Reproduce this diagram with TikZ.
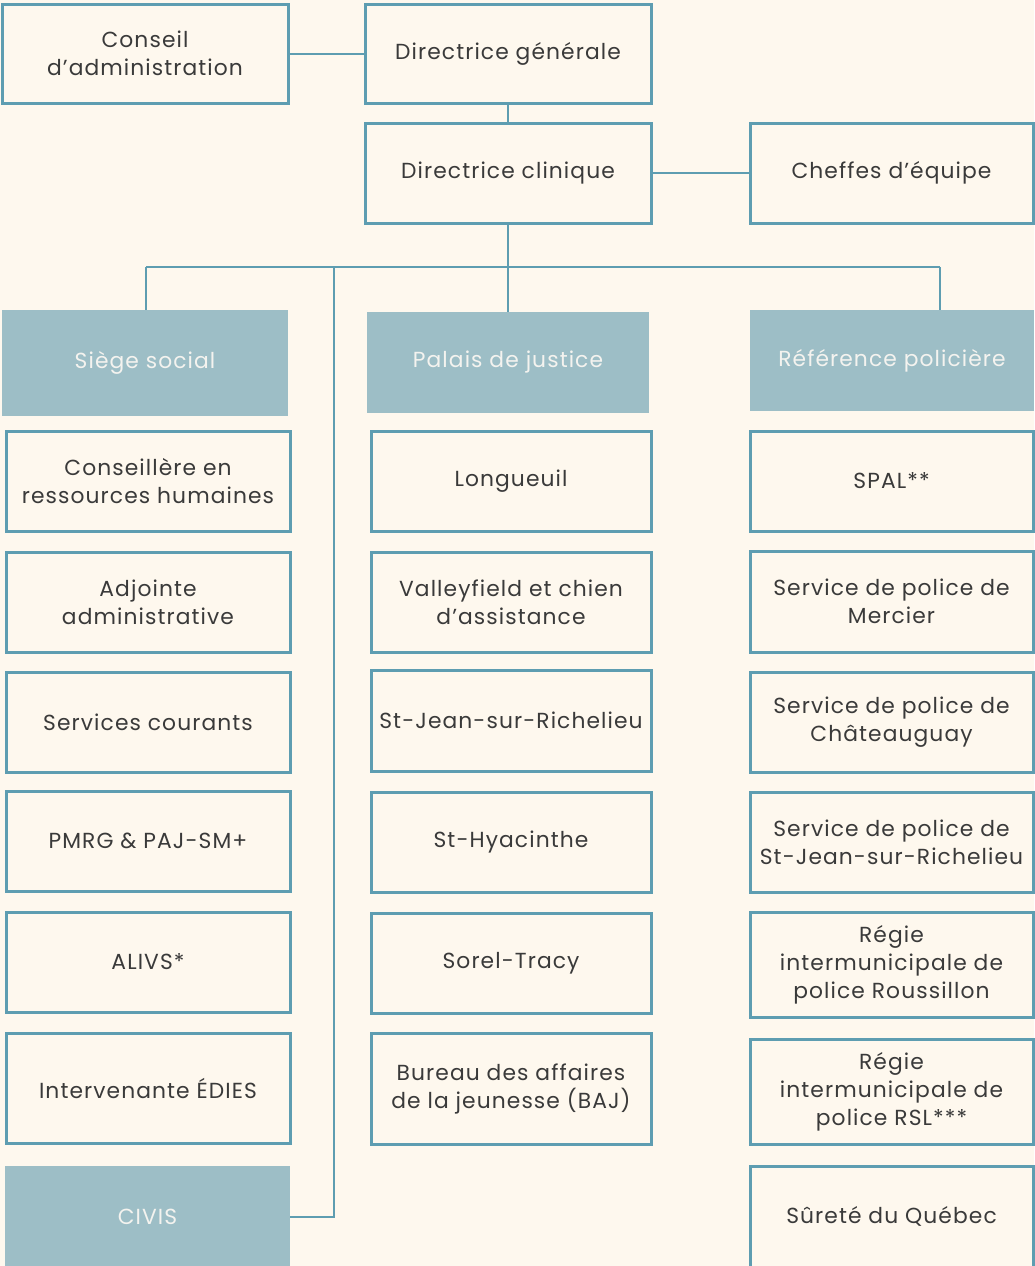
\documentclass[tikz,border=0pt]{standalone}
\usepackage{fontspec}
\setmainfont{Poppins}[LetterSpace=5]
\definecolor{bg}{HTML}{FEF8EE}
\definecolor{edge}{HTML}{5E9DB1}
\definecolor{head}{HTML}{9DBEC6}
\definecolor{ink}{HTML}{3A3A3A}
\definecolor{headink}{HTML}{F4F3EF}
\tikzset{
  box/.style={draw=edge, line width=3pt, fill=bg, text=ink, align=center, inner sep=0pt,
    font=\fontsize{21.8}{28}\selectfont},
  headbox/.style={fill=head, text=headink, align=center, inner sep=0pt,
    font=\fontsize{21.8}{28}\selectfont},
  link/.style={draw=edge, line width=2pt}
}
\begin{document}
\begin{tikzpicture}[x=1pt,y=-1pt]
\fill[bg] (0,0) rectangle (1034,1266);
\useasboundingbox (0,0) rectangle (1034,1266);
% top
\node[box, minimum width=286, minimum height=99] (CA) at (145,53.5) {Conseil\\d’administration};
\node[box, minimum width=286, minimum height=99] (DG) at (508,53.5) {Directrice générale};
\node[box, minimum width=286, minimum height=100] (DC) at (508,173) {Directrice clinique};
\node[box, minimum width=283, minimum height=100] (CH) at (891.5,173) {Cheffes d’équipe};
% headers
\node[headbox, minimum width=286, minimum height=106] (SS) at (145,363) {Siège social};
\node[headbox, minimum width=282, minimum height=101] (PJ) at (508,362.5) {Palais de justice};
\node[headbox, minimum width=284, minimum height=101] (RP) at (892,360.5) {Référence policière};
\node[headbox, minimum width=285, minimum height=101] (CV) at (147.5,1216.5) {CIVIS};
% left column
\node[box, minimum width=284, minimum height=100] (L1) at (148,481) {Conseillère en\\ressources humaines};
\node[box, minimum width=284, minimum height=100] (L2) at (148,602) {Adjointe\\administrative};
\node[box, minimum width=284, minimum height=100] (L3) at (148,722) {Services courants};
\node[box, minimum width=284, minimum height=100] (L4) at (148,841) {PMRG \& PAJ-SM+};
\node[box, minimum width=284, minimum height=100] (L5) at (148,962) {ALIVS*};
\node[box, minimum width=284, minimum height=110] (L6) at (148,1088) {Intervenante ÉDIES};
% middle column
\node[box, minimum width=280, minimum height=100] (M1) at (511,481) {Longueuil};
\node[box, minimum width=280, minimum height=100] (M2) at (511,602) {Valleyfield et chien\\d’assistance};
\node[box, minimum width=280, minimum height=101] (M3) at (511,720.5) {St-Jean-sur-Richelieu};
\node[box, minimum width=280, minimum height=100] (M4) at (511,842) {St-Hyacinthe};
\node[box, minimum width=280, minimum height=100] (M5) at (511,963) {Sorel-Tracy};
\node[box, minimum width=280, minimum height=111] (M6) at (511,1088.5) {Bureau des affaires\\de la jeunesse (BAJ)};
% right column
\node[box, minimum width=283, minimum height=100] (R1) at (891.5,481) {SPAL**};
\node[box, minimum width=283, minimum height=101] (R2) at (891.5,601.5) {Service de police de\\Mercier};
\node[box, minimum width=283, minimum height=100] (R3) at (891.5,722) {Service de police de\\Châteauguay};
\node[box, minimum width=283, minimum height=100] (R4) at (891.5,842) {Service de police de\\St-Jean-sur-Richelieu};
\node[box, minimum width=283, minimum height=105] (R5) at (891.5,964.5) {Régie\\intermunicipale de\\police Roussillon};
\node[box, minimum width=283, minimum height=105] (R6) at (891.5,1091.5) {Régie\\intermunicipale de\\police RSL***};
\node[box, minimum width=283, minimum height=101] (R7) at (891.5,1216.5) {Sûreté du Québec};
% connectors
\coordinate (bL) at (146,267);
\coordinate (bR) at (940,267);
\coordinate (bC) at (334,267);
\draw[link] (CA.east) -- (DG.west);
\draw[link] (DG.south) -- (DC.north);
\draw[link] (DC.east) -- (CH.west);
\draw[link] (DC.south) -- (PJ.north);
\draw[link] (bL) -- (bR);
\draw[link] (bL) -- (bL |- SS.north);
\draw[link] (bR) -- (bR |- RP.north);
\draw[link] (bC) |- (CV.east);
\end{tikzpicture}
\end{document}
